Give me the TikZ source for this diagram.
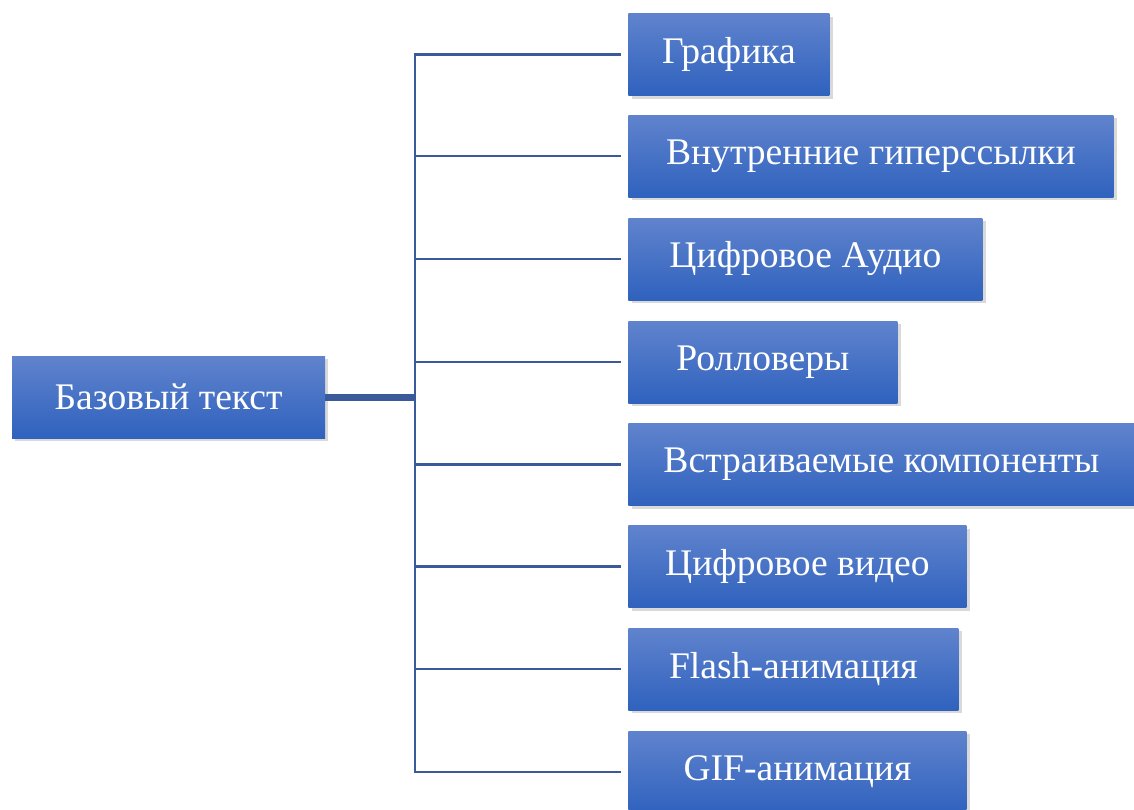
\documentclass[tikz,border=0pt]{standalone}
\usepackage{fontspec}
\setmainfont{Liberation Serif}
\usepackage{tikz}
\usetikzlibrary{shadows, positioning}

\definecolor{boxtop}{RGB}{96,131,205}
\definecolor{boxbottom}{RGB}{47,98,190}
\definecolor{linecol}{RGB}{58,90,155}

\begin{document}
\begin{tikzpicture}[x=0.5pt, y=-0.5pt,
        block/.style={top color=boxtop, bottom color=boxbottom, text=white, minimum height=41pt, inner sep=0pt, align=center,
            font=\fontsize{18.8}{21}\selectfont, drop shadow={shadow xshift=1.6pt, shadow yshift=-1.6pt, opacity=0.3}},
        item/.style={block, anchor=west},
        branch/.style={draw=linecol, line width=1.3pt, shorten >=3.5pt},
        trunk/.style={draw=linecol, line width=3.5pt}]

        \clip (0,0) rectangle (1134,809);

        % Nodes
        \node [block, minimum width=156.5pt] (base) at (168.5,397) {Базовый текст};
        \coordinate (hub) at (415,397);
        \node [item, minimum width=100.5pt] (graph) at (628,54.5) {Графика};
        \node [item, minimum width=242.5pt] (links) at (628,156) {Внутренние гиперссылки};
        \node [item, minimum width=177pt] (audio) at (628,259) {Цифровое Аудио};
        \node [item, minimum width=134.5pt] (roll) at (628,362) {Ролловеры};
        \node [item, minimum width=253pt] (embed) at (628,464.5) {Встраиваемые компоненты};
        \node [item, minimum width=169pt] (video) at (628,566.5) {Цифровое видео};
        \node [item, minimum width=165pt] (flash) at (628,669) {Flash-анимация};
        \node [item, minimum width=169pt] (gif) at (628,772) {GIF-анимация};

        % Lines
        \draw [trunk] (base.east) -- (hub);
        \draw [branch] (hub) |- (graph.west);
        \draw [branch] (hub) |- (links.west);
        \draw [branch] (hub) |- (audio.west);
        \draw [branch] (hub) |- (roll.west);
        \draw [branch] (hub) |- (embed.west);
        \draw [branch] (hub) |- (video.west);
        \draw [branch] (hub) |- (flash.west);
        \draw [branch] (hub) |- (gif.west);
\end{tikzpicture}
\end{document}
